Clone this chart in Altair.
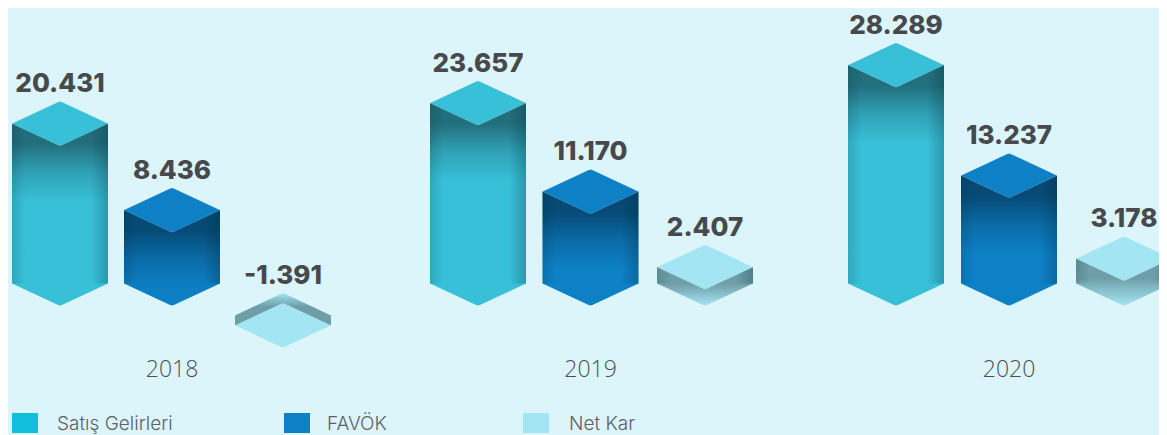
import altair as alt
import pandas as pd

years = ["2018", "2019", "2020"]
series = ["Satış Gelirleri", "FAVÖK", "Net Kar"]
values = [20431, 8436, -1391, 23657, 11170, 2407, 28289, 13237, 3178]
labels = ["20.431", "8.436", "-1.391", "23.657", "11.170", "2.407", "28.289", "13.237", "3.178"]

# ---- layout / style, separate from the data ----
W, H = 1151, 427
OFF = 8  # page margin
BG = "#DCF5FA"
FACE = {"Satış Gelirleri": "#38C0D8", "FAVÖK": "#0D80C6", "Net Kar": "#A3E5F2"}
DARK = {"Satış Gelirleri": "#226E7C", "FAVÖK": "#064A75", "Net Kar": "#6E9EA8"}
SWATCH = {"Satış Gelirleri": "#13C0DC", "FAVÖK": "#0D80C6", "Net Kar": "#A3E5F2"}
LEG_X = {"Satış Gelirleri": (25, 57), "FAVÖK": (297, 327), "Net Kar": (536, 569)}
# the picture's bars are not to a strict linear scale: piecewise mapping value -> page y
Y_DOMAIN = [-1391, 0, 2407, 3178, 8436, 11170, 13237, 20431, 23657, 28289]
Y_PAGE = [325.5, 283.5, 267, 258.5, 210, 191.5, 175.5, 123.5, 103, 65]
X_PAGE = [60, 172, 283, 478, 590.5, 705, 896, 1009, 1124]
BAR_W = 96
DIAMOND = "M-1,0L-0.04,-0.45Q0,-0.47 0.04,-0.45L1,0L0.04,0.45Q0,0.47 -0.04,0.45Z"
SWATCH_SHAPE = "M-1,-0.77L1,-0.77L1,0.77L-1,0.77Z"

xs = alt.Scale(domain=list(range(9)), range=[p - OFF for p in X_PAGE], nice=False, zero=False, padding=0)
ys = alt.Scale(domain=Y_DOMAIN, range=[p - OFF for p in Y_PAGE], nice=False, zero=False)
X = alt.X("slot:Q", scale=xs, axis=None)
Y = alt.Y("val:Q", scale=ys, axis=None)


def mix(a, b, t):
    t = max(0, min(1, t))
    ca = [int(a[i:i + 2], 16) for i in (1, 3, 5)]
    cb = [int(b[i:i + 2], 16) for i in (1, 3, 5)]
    return "#%02x%02x%02x" % tuple(round(p + (q - p) * t) for p, q in zip(ca, cb))


def vgrad(stops):
    return alt.Gradient(gradient="linear", x1=0, y1=0, x2=0, y2=1,
                        stops=[alt.GradientStop(offset=round(o, 4), color=c) for o, c in stops])


def diamond(df, fill, field="val", stroke="rgba(255,255,255,0.3)"):
    return alt.Chart(df).mark_point(
        shape=DIAMOND, size=BAR_W ** 2, filled=True, fill=fill, opacity=1,
        stroke=stroke, strokeWidth=0.6,
    ).encode(x=X, y=alt.Y(f"{field}:Q", scale=ys, axis=None))


VIGNETTE = alt.Gradient(gradient="linear", x1=0, y1=0, x2=1, y2=0, stops=[
    alt.GradientStop(offset=0, color="rgba(0,40,50,0.16)"),
    alt.GradientStop(offset=0.14, color="rgba(0,40,50,0)"),
    alt.GradientStop(offset=0.82, color="rgba(0,40,50,0)"),
    alt.GradientStop(offset=1, color="rgba(0,40,50,0.26)"),
])

layers = []
for k, v in enumerate(values):
    name = series[k % 3]
    face, dark = FACE[name], DARK[name]
    row = pd.DataFrame({"slot": [k], "val": [v], "base": [0 if v > 0 else v * 0.76]})
    if v > 0:
        h = Y_PAGE[Y_DOMAIN.index(0)] - Y_PAGE[Y_DOMAIN.index(v)]
        depth = h + 22.5
        hold, full = 20, min(78, depth)
        mid = (hold + full) / 2

        def col(d):
            if d <= hold:
                return dark
            if d <= mid:
                return mix(dark, face, 0.62 * (d - hold) / (mid - hold))
            return mix(dark, face, 0.62 + 0.38 * (d - mid) / (full - mid))

        stops = [(0, dark)]
        if hold < h:
            stops.append((hold / h, dark))
        if mid < h:
            stops.append((mid / h, col(mid)))
        if full < h:
            stops.append((full / h, face))
        stops.append((1, col(h)))
        layers.append(diamond(row, vgrad([(0, col(h)), (0.5, col(h)), (1, col(depth))]), "base",
                              stroke="rgba(255,255,255,0)"))
        layers.append(alt.Chart(row).mark_bar(size=BAR_W, fill=vgrad(stops), orient="vertical")
                      .encode(x=X, y=Y, y2="base:Q"))
        layers.append(alt.Chart(row).mark_bar(size=BAR_W, fill=VIGNETTE, orient="vertical")
                      .encode(x=X, y=Y, y2="base:Q"))
    else:
        layers.append(diamond(row, vgrad([(0, "#A3E5F2"), (0.12, "#8CC8D3"), (0.3, dark), (1, dark)]),
                              "base", stroke="rgba(255,255,255,0)"))
        layers.append(alt.Chart(row).mark_bar(size=BAR_W, fill=dark, orient="vertical")
                      .encode(x=X, y=Y, y2="base:Q"))
    layers.append(diamond(row, face))

lab = pd.DataFrame({
    "slot": list(range(9)),
    "val": [v if v > 0 else v * 0.76 for v in values],
    "label": labels,
})
layers.append(alt.Chart(lab).mark_text(
    font="Inter", fontWeight=800, fontSize=26, color="#48494D", dy=-31.5, baseline="alphabetic",
).encode(x=X, y=Y, text="label:N"))

yr = pd.DataFrame({"slot": [i * 3 + 1 for i in range(3)], "year": years})
layers.append(alt.Chart(yr).mark_text(
    font="Open Sans", fontWeight=300, fontSize=23, color="#4E4F53", baseline="alphabetic",
).encode(x=X, y=alt.value(377 - OFF), text="year:N"))

for s in series:
    one = pd.DataFrame({"series": [s]})
    sx, tx = LEG_X[s]
    layers.append(alt.Chart(one).mark_point(
        shape=SWATCH_SHAPE, size=26 ** 2, filled=True, fill=SWATCH[s], opacity=1, strokeWidth=0,
    ).encode(x=alt.value(sx - OFF), y=alt.value(423 - OFF)))
    layers.append(alt.Chart(one).mark_text(
        font="Inter", fontWeight=300, fontSize=19, color="#5E6068", align="left", baseline="alphabetic",
    ).encode(x=alt.value(tx - OFF), y=alt.value(430 - OFF), text="series:N"))

chart = alt.layer(*layers).properties(
    width=W, height=H, background=BG, padding=0, autosize=alt.AutoSizeParams(type="none"),
).configure_view(stroke=None)

chart.save("out.html", embed_options={"renderer": "svg", "actions": False})
